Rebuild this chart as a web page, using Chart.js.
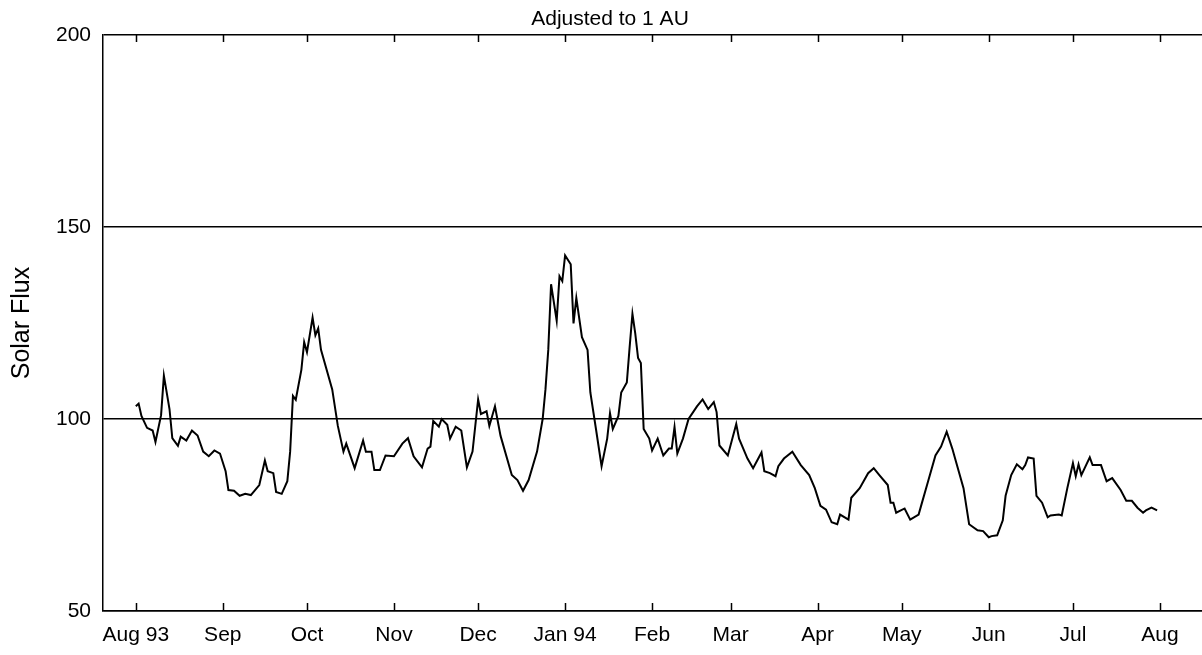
<!DOCTYPE html>
<html>
<head>
<meta charset="utf-8">
<script src="https://cdn.jsdelivr.net/npm/chart.js@4"></script>
<style>
  html, body { margin: 0; padding: 0; background: #fff; }
  #wrap { width: 1202px; height: 655px; }
</style>
</head>
<body>
<div id="wrap"><canvas id="chartCanvas" width="1202" height="655"></canvas></div>
<script>
// days since 1 Aug 1993
const days = [
  0, 1, 2, 4, 6, 7, 9, 10, 12, 13, 15, 16, 18, 20, 22, 24, 26, 28, 30, 32,
  33, 35, 37, 39, 41, 44, 46, 47, 49, 50, 52, 54, 55, 56, 57, 59, 60, 61, 63, 64,
  65, 66, 70, 72, 74, 75, 78, 81, 82, 84, 85, 87, 89, 92, 95, 97, 99, 102, 104, 105,
  106, 108, 109, 111, 112, 114, 116, 118, 120, 122, 123, 125, 126, 128, 130, 134, 136, 138, 140, 143,
  145, 146, 147, 148, 150, 151, 152, 153, 155, 156, 157, 159, 161, 162, 164, 166, 168, 169, 170, 172,
  173, 175, 176, 177, 178, 179, 180, 181, 183, 184, 186, 188, 190, 191, 192, 193, 195, 197, 200, 202,
  204, 206, 207, 208, 211, 214, 215, 218, 220, 223, 224, 226, 228, 229, 231, 234, 237, 240, 242, 244,
  246, 248, 250, 251, 254, 255, 258, 261, 263, 265, 268, 269, 270, 271, 274, 276, 279, 280, 282, 285,
  287, 289, 291, 292, 295, 297, 300, 302, 304, 305, 307, 309, 310, 312, 314, 316, 317, 318, 320, 321,
  323, 325, 326, 329, 330, 332, 334, 335, 336, 337, 340, 341, 344, 346, 348, 351, 353, 355, 357, 359,
  360, 362, 364
];

const flux = [
  103.3, 104, 100.8, 97.7, 97, 94, 101, 111.3, 102.6, 95, 93, 95.4, 94.4, 97, 95.7, 91.5, 90.3, 91.8, 91, 86.4,
  81.5, 81.3, 80, 80.5, 80.2, 82.8, 89.2, 86.4, 85.9, 81, 80.5, 83.8, 91.5, 106, 105, 112.8, 120, 117.4, 126.4, 121.8,
  123.6, 118, 107.7, 98.2, 91.5, 93.6, 87.2, 94.4, 91.5, 91.5, 86.7, 86.7, 90.5, 90.3, 93.6, 95, 90.3, 87.4, 92.3, 92.8,
  99.5, 98, 100, 98.5, 94.9, 98, 97, 87.4, 91.5, 105.1, 101.3, 102, 98.2, 103.3, 95.6, 85.4, 84.1, 81.3, 84.1, 91.5,
  100, 107.7, 118, 135.1, 125.6, 137.2, 135.9, 142.6, 140.3, 124.9, 131.5, 121.3, 118, 106.9, 97.4, 87.7, 94.9, 101.5, 97.4, 100.8,
  106.9, 109.5, 118.7, 127.4, 122.3, 115.9, 114.6, 97.4, 94.9, 91.8, 94.9, 90.5, 92.3, 92.3, 97.9, 91, 94.9, 100, 103.3, 105.1,
  102.6, 104.4, 101.8, 93.1, 90.5, 98.7, 94.9, 89.7, 87.2, 91.3, 86.4, 85.9, 85.1, 87.7, 89.7, 91.5, 88, 85.4, 82, 77.4,
  76.4, 73.1, 72.6, 75.1, 73.8, 79.5, 82, 85.9, 87.2, 85.4, 82.8, 78.2, 78.2, 75.6, 76.7, 73.8, 75.1, 77.7, 82.8, 90.5,
  92.8, 96.7, 92.3, 89.7, 82, 72.6, 71, 70.8, 69.2, 69.5, 69.7, 73.6, 80, 85.4, 88.2, 86.9, 88, 90, 89.7, 80,
  78.2, 74.4, 74.9, 75.1, 74.9, 82, 88.5, 85.1, 88.2, 85.4, 90, 88, 88, 83.8, 84.6, 81.5, 78.7, 78.7, 76.9, 75.6,
  76.2, 76.9, 76.2
];

// month starts (days since 1 Aug 1993) and their labels
const monthDays = [0, 31, 61, 92, 122, 153, 184, 212, 243, 273, 304, 334, 365];
const monthLabels = ["Aug 93", "Sep", "Oct", "Nov", "Dec", "Jan 94", "Feb", "Mar", "Apr", "May", "Jun", "Jul", "Aug"];

const yTicks = [50, 100, 150, 200];

const FONT = "'Liberation Sans', Arial, sans-serif";

const points = days.map((d, i) => ({ x: d, y: flux[i] }));

// short inward tick marks on bottom and top edges, plus the title
const frameTicks = {
  id: 'frameTicks',
  afterDraw(chart) {
    const ctx = chart.ctx;
    const xs = chart.scales.x;
    const area = chart.chartArea;
    ctx.save();
    ctx.strokeStyle = '#000';
    ctx.lineWidth = 1.5;
    for (const d of monthDays) {
      const px = Math.round(xs.getPixelForValue(d)) + 0.5;
      ctx.beginPath();
      ctx.moveTo(px, area.bottom);
      ctx.lineTo(px, area.bottom - 8);
      ctx.moveTo(px, area.top);
      ctx.lineTo(px, area.top + 7);
      ctx.stroke();
    }
    ctx.fillStyle = '#000';
    ctx.font = '21px ' + FONT;
    ctx.textAlign = 'center';
    ctx.textBaseline = 'alphabetic';
    ctx.fillText('Adjusted to 1 AU', 610, 25);
    ctx.restore();
  }
};

new Chart(document.getElementById('chartCanvas'), {
  type: 'line',
  data: {
    datasets: [{
      label: 'Solar Flux',
      data: points,
      borderColor: '#000',
      borderWidth: 2,
      pointRadius: 0,
      tension: 0,
      fill: false
    }]
  },
  options: {
    responsive: false,
    animation: false,
    devicePixelRatio: 1,
    layout: { padding: { top: 35, right: 0, bottom: 0, left: 0 } },
    plugins: {
      legend: { display: false },
      tooltip: { enabled: false }
    },
    scales: {
      x: {
        type: 'linear',
        min: -11.7,
        max: 380,
        afterBuildTicks: (scale) => {
          scale.ticks = monthDays.map(v => ({ value: v }));
        },
        afterFit: (scale) => { scale.height = 44; },
        ticks: {
          autoSkip: false,
          maxRotation: 0,
          padding: 12,
          color: '#000',
          font: { family: FONT, size: 21 },
          callback: (value, index) => monthLabels[index]
        },
        grid: { display: false, drawTicks: false },
        border: { display: true, color: '#000', width: 1.5 }
      },
      y: {
        min: 50,
        max: 200,
        afterBuildTicks: (scale) => {
          scale.ticks = yTicks.map(v => ({ value: v }));
        },
        afterFit: (scale) => { scale.width = 103; },
        ticks: {
          padding: 12,
          color: '#000',
          font: { family: FONT, size: 21 }
        },
        title: {
          display: true,
          text: 'Solar Flux',
          color: '#000',
          font: { family: FONT, size: 25 },
          padding: { top: 7, bottom: 0 }
        },
        grid: { color: '#000', lineWidth: 1.5, drawTicks: false },
        border: { display: true, color: '#000', width: 1.5 }
      }
    }
  },
  plugins: [frameTicks]
});
</script>
</body>
</html>
